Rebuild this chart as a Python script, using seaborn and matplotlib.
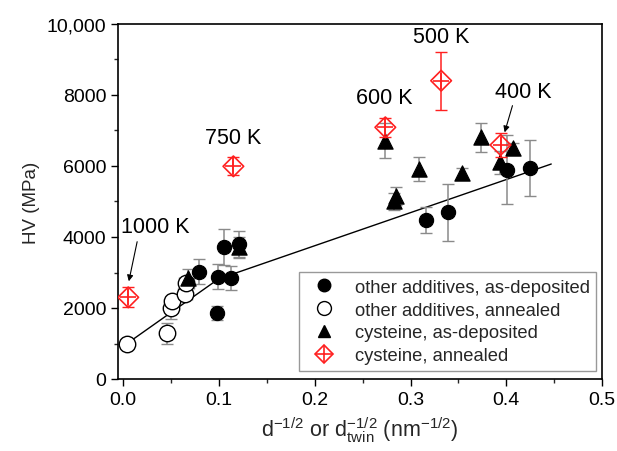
import matplotlib
matplotlib.use("Agg")
import matplotlib.pyplot as plt
import matplotlib.ticker as mticker
from matplotlib.lines import Line2D
from matplotlib.legend_handler import HandlerTuple
import seaborn as sns

# other additives, as-deposited
oa_dep_x = [0.0795, 0.0977, 0.0994, 0.1053, 0.112, 0.1213, 0.3166, 0.3393, 0.4003, 0.4247]
oa_dep_y = [3023, 1859, 2882, 3709, 2836, 3803, 4479, 4695, 5896, 5944]
oa_dep_err = [350, 200, 350, 510, 340, 370, 360, 800, 970, 800]

# other additives, annealed
oa_ann_x = [0.004, 0.046, 0.0496, 0.051, 0.0645, 0.066]
oa_ann_y = [1000, 1290, 2000, 2200, 2394, 2700]
oa_ann_err = [0, 290, 300, 150, 150, 150]
oa_ann_xerr = [0, 0, 0, 0, 0.007, 0.008]

# cysteine, as-deposited
cy_dep_x = [0.068, 0.1213, 0.2737, 0.2832, 0.2845, 0.3086, 0.354, 0.374, 0.3933, 0.407]
cy_dep_y = [2836, 3709, 6713, 5000, 5150, 5916, 5803, 6808, 6103, 6507]
cy_dep_err = [250, 300, 500, 250, 250, 340, 130, 400, 330, 150]

# cysteine, annealed
cy_ann_x = [0.0052, 0.115, 0.2737, 0.332, 0.394]
cy_ann_y = [2300, 5991, 7090, 8403, 6592]
cy_ann_err = [280, 250, 270, 820, 340]
cy_ann_labels = ["1000 K", "750 K", "600 K", "500 K", "400 K"]

# fit line (bilinear)
fit_x = [0.004, 0.0994, 0.447]
fit_y = [1000, 2817, 6056]

legend_labels = ["other additives, as-deposited", "other additives, annealed",
                 "cysteine, as-deposited", "cysteine, annealed"]

sns.set_style("ticks")
plt.rcParams['font.family'] = ['Liberation Sans', 'DejaVu Sans']

fig = plt.figure(figsize=(6.17, 4.52), dpi=100)
ax = fig.add_axes([118/617, 1-380/452, (602-118)/617, (380-25)/452])

gray = "#8a8a8a"
red = "#ff2020"

# fit line
sns.lineplot(x=fit_x, y=fit_y, ax=ax, color="black", lw=1.0, zorder=2, sort=False)

# error bars
ax.errorbar(oa_dep_x, oa_dep_y, yerr=oa_dep_err, fmt="none", ecolor=gray, elinewidth=1.1, capsize=4, zorder=3)
ax.errorbar(oa_ann_x, oa_ann_y, yerr=oa_ann_err, xerr=oa_ann_xerr, fmt="none", ecolor=gray, elinewidth=1.1, capsize=4, zorder=3)
ax.errorbar(cy_dep_x, cy_dep_y, yerr=cy_dep_err, fmt="none", ecolor=gray, elinewidth=1.1, capsize=4, zorder=3)
ax.errorbar(cy_ann_x, cy_ann_y, yerr=cy_ann_err, fmt="none", ecolor=red, elinewidth=1.1, capsize=4, zorder=5)

# markers
sns.scatterplot(x=oa_dep_x, y=oa_dep_y, ax=ax, marker="o", s=105, color="black", edgecolor="black", zorder=4)
sns.scatterplot(x=oa_ann_x, y=oa_ann_y, ax=ax, marker="o", s=140, facecolor="white", edgecolor="black", linewidth=1.0, zorder=4)
sns.scatterplot(x=cy_dep_x, y=cy_dep_y, ax=ax, marker="^", s=120, color="black", edgecolor="black", zorder=4)
sns.scatterplot(x=cy_ann_x, y=cy_ann_y, ax=ax, marker="D", s=110, facecolor="none", edgecolor=red, linewidth=1.2, zorder=6)
sns.scatterplot(x=cy_ann_x, y=cy_ann_y, ax=ax, marker="+", s=130, color=red, linewidth=1.2, zorder=6)

# annotations
ann_text_pos = [(0.0332, 4282), (0.115, 6809), (0.273, 7935), (0.3323, 9643), (0.4178, 8104)]
for lab, (tx, ty) in zip(cy_ann_labels, ann_text_pos):
    ax.text(tx, ty, lab, ha="center", va="center", fontsize=15.5, color="black")
ax.annotate("", xy=(0.0052, 2676), xytext=(0.0151, 3944),
            arrowprops=dict(arrowstyle="-|>", color="black", lw=0.8, mutation_scale=9))
ax.annotate("", xy=(0.3975, 6873), xytext=(0.4073, 7775),
            arrowprops=dict(arrowstyle="-|>", color="black", lw=0.8, mutation_scale=9))

ax.set_xlim(-0.0055, 0.5)
ax.set_ylim(0, 10000)
ax.xaxis.set_major_locator(mticker.MultipleLocator(0.1))
ax.xaxis.set_minor_locator(mticker.MultipleLocator(0.05))
ax.yaxis.set_major_locator(mticker.MultipleLocator(2000))
ax.yaxis.set_minor_locator(mticker.MultipleLocator(1000))
ax.xaxis.set_major_formatter(mticker.FormatStrFormatter("%.1f"))
ax.yaxis.set_major_formatter(mticker.FuncFormatter(
    lambda v, p: "10,000" if v >= 10000 else f"{int(v)}"))
ax.tick_params(axis="both", which="major", direction="out", length=5, width=1, labelsize=14, colors="black")
ax.tick_params(axis="both", which="minor", direction="out", length=3, width=1)
for sp in ax.spines.values():
    sp.set_visible(True)
    sp.set_linewidth(1.2)
    sp.set_color("black")

ax.set_ylabel("HV (MPa)", fontsize=13.5, labelpad=5)
ax.set_xlabel(r"d$^{\mathregular{-1/2}}$ or d$^{\mathregular{-1/2}}_{\mathregular{twin}}$ (nm$^{\mathregular{-1/2}}$)", fontsize=15.5, labelpad=5)

handles = [
    Line2D([], [], ls="none", marker="o", ms=9, mfc="black", mec="black"),
    Line2D([], [], ls="none", marker="o", ms=10, mfc="white", mec="black"),
    Line2D([], [], ls="none", marker="^", ms=9, mfc="black", mec="black"),
    (Line2D([], [], ls="none", marker="D", ms=9, mfc="none", mec=red, mew=1.2),
     Line2D([], [], ls="none", marker="+", ms=11, mec=red, mew=1.2)),
]
leg = ax.legend(handles, legend_labels, loc="lower right", bbox_to_anchor=(0.9957, 0.013),
                fontsize=13.2, frameon=True, fancybox=False, borderpad=0.35,
                handletextpad=0.7, labelspacing=0.32, borderaxespad=0.2,
                handler_map={tuple: HandlerTuple(ndivide=1)})
leg.get_frame().set_edgecolor("#808080")
leg.get_frame().set_linewidth(1.0)

fig.savefig("out.png", dpi=100)
